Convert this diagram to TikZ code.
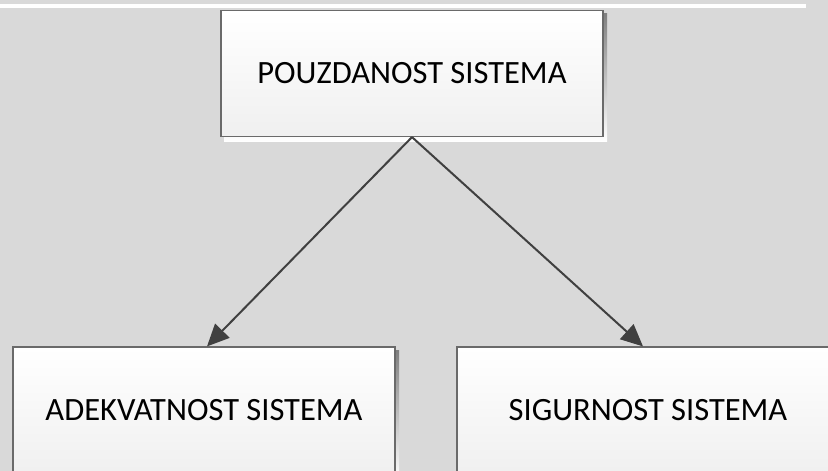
\documentclass[tikz,border=0pt]{standalone}
\usepackage{fontspec}
\setmainfont{Carlito}
\usetikzlibrary{arrows.meta}
\definecolor{bg}{HTML}{D9D9D9}
\definecolor{edge}{HTML}{404040}
\definecolor{boxline}{HTML}{6A6A6A}
\definecolor{shade}{HTML}{D1D1D1}
\tikzset{
  box/.style={rectangle, draw=boxline, line width=1.2pt, top color=white, bottom color=black!6,
    minimum width=382pt, minimum height=126pt, inner sep=0pt,
    font=\fontsize{32.5}{36}\selectfont, text=black},
  conn/.style={draw=edge, line width=2pt, -{Triangle[length=22pt,width=20pt]}}
}
\begin{document}
\begin{tikzpicture}[x=1pt,y=-1pt]
\useasboundingbox (0,0) rectangle (828,471);
\begin{scope}
\clip (0,0) rectangle (828,471);
\fill[bg] (0,0) rectangle (828,471);
\fill[white] (0,4) rectangle (806,7.5);
\fill[shade] (224,13) rectangle (607,141);
\fill[shade] (16,350) rectangle (399,480);
\fill[shade] (460,350) rectangle (844,480);
\node[box] (top) at (412,73.5) {POUZDANOST SISTEMA};
\node[box] (left) at (204,410) {ADEKVATNOST SISTEMA};
\node[box] (right) at (648,410) {SIGURNOST SISTEMA};
\draw[conn] (top.south) -- ([xshift=3pt]left.north);
\draw[conn] (top.south) -- ([xshift=-5pt]right.north);
\end{scope}
\end{tikzpicture}
\end{document}
